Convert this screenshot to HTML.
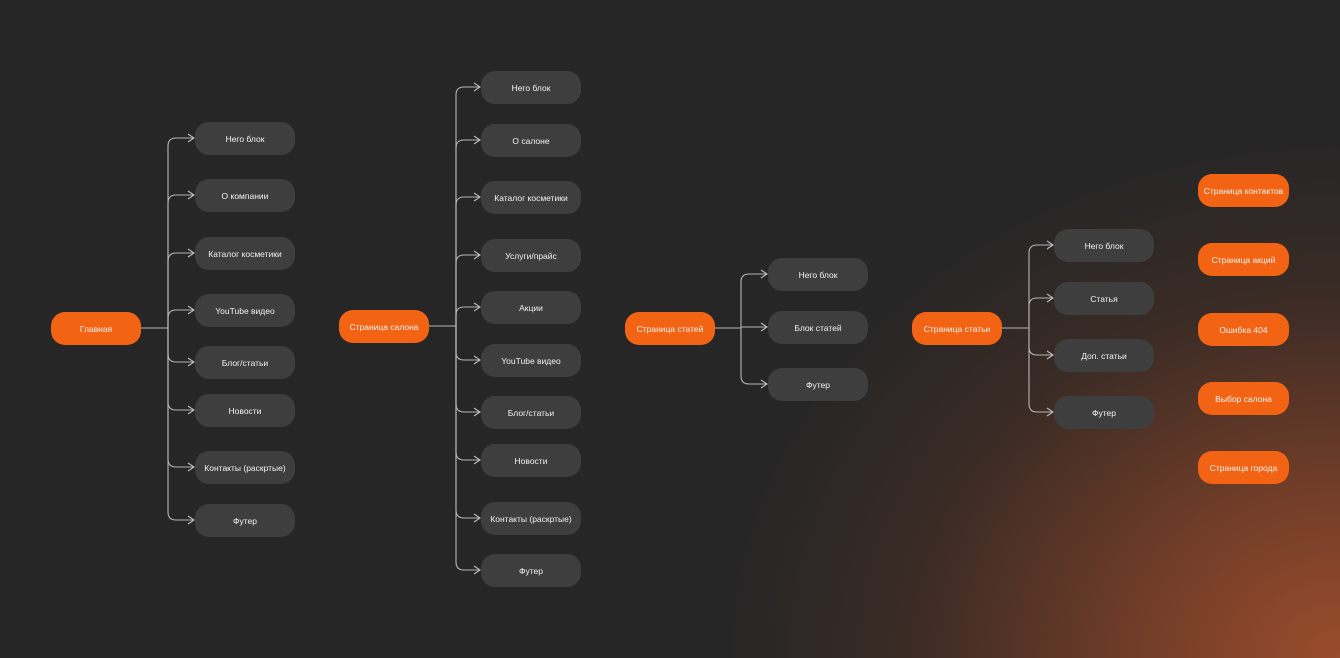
<!DOCTYPE html>
<html><head><meta charset="utf-8"><style>
html,body{margin:0;padding:0}
body{width:1340px;height:658px;position:relative;overflow:hidden;
background:radial-gradient(ellipse 620px 520px at 1340px 658px,#9a4c2c 0%,#6e3c28 35%,#3a2b25 70%,rgba(38,38,38,0) 100%),#262626;
font-family:"Liberation Sans","Noto Sans CJK SC",sans-serif;}
.n{position:absolute;height:33px;border-radius:14px;color:#f2f2f2;font-size:8.5px;display:flex;align-items:center;justify-content:center;white-space:nowrap}
.o{background:#f26414;width:90px}
.g{background:#3e3e3e;width:100px}
svg{position:absolute;left:0;top:0}
</style></head><body>
<svg width="1340" height="658">
<defs><marker id="a" markerWidth="8" markerHeight="10" refX="7" refY="5" orient="auto" markerUnits="userSpaceOnUse"><path d="M1,1 L7,5 L1,9" fill="none" stroke="#bdbdbd" stroke-width="1.1"/></marker></defs>
<g fill="none" stroke="#b5b5b5" stroke-width="1.1">
<path d="M141,328 L168,328"/>
<path marker-end="url(#a)" d="M168,328 L168,146 Q168,138 176,138 L194,138"/>
<path marker-end="url(#a)" d="M168,328 L168,203 Q168,195 176,195 L194,195"/>
<path marker-end="url(#a)" d="M168,328 L168,261 Q168,253 176,253 L194,253"/>
<path marker-end="url(#a)" d="M168,328 L168,318 Q168,310 176,310 L194,310"/>
<path marker-end="url(#a)" d="M168,328 L168,354 Q168,362 176,362 L194,362"/>
<path marker-end="url(#a)" d="M168,328 L168,402 Q168,410 176,410 L194,410"/>
<path marker-end="url(#a)" d="M168,328 L168,459 Q168,467 176,467 L194,467"/>
<path marker-end="url(#a)" d="M168,328 L168,512 Q168,520 176,520 L194,520"/>

<path d="M429,326 L456,326"/>
<path marker-end="url(#a)" d="M456,326 L456,95 Q456,87 464,87 L480,87"/>
<path marker-end="url(#a)" d="M456,326 L456,148 Q456,140 464,140 L480,140"/>
<path marker-end="url(#a)" d="M456,326 L456,205 Q456,197 464,197 L480,197"/>
<path marker-end="url(#a)" d="M456,326 L456,263 Q456,255 464,255 L480,255"/>
<path marker-end="url(#a)" d="M456,326 L456,315 Q456,307 464,307 L480,307"/>
<path marker-end="url(#a)" d="M456,326 L456,352 Q456,360 464,360 L480,360"/>
<path marker-end="url(#a)" d="M456,326 L456,404 Q456,412 464,412 L480,412"/>
<path marker-end="url(#a)" d="M456,326 L456,452 Q456,460 464,460 L480,460"/>
<path marker-end="url(#a)" d="M456,326 L456,510 Q456,518 464,518 L480,518"/>
<path marker-end="url(#a)" d="M456,326 L456,562 Q456,570 464,570 L480,570"/>

<path d="M715,328 L741,328"/>
<path marker-end="url(#a)" d="M741,328 L741,282 Q741,274 749,274 L767,274"/>
<path marker-end="url(#a)" d="M741,327 L767,327"/>
<path marker-end="url(#a)" d="M741,328 L741,376 Q741,384 749,384 L767,384"/>

<path d="M1002,328 L1029,328"/>
<path marker-end="url(#a)" d="M1029,328 L1029,253 Q1029,245 1037,245 L1053,245"/>
<path marker-end="url(#a)" d="M1029,328 L1029,306 Q1029,298 1037,298 L1053,298"/>
<path marker-end="url(#a)" d="M1029,328 L1029,347 Q1029,355 1037,355 L1053,355"/>
<path marker-end="url(#a)" d="M1029,328 L1029,404 Q1029,412 1037,412 L1053,412"/>
</g></svg>

<div class="n o" style="left:51px;top:312px">Главная</div>
<div class="n g" style="left:195px;top:122px">Него блок</div>
<div class="n g" style="left:195px;top:179px">О компании</div>
<div class="n g" style="left:195px;top:237px">Каталог косметики</div>
<div class="n g" style="left:195px;top:294px">YouTube видео</div>
<div class="n g" style="left:195px;top:346px">Блог/статьи</div>
<div class="n g" style="left:195px;top:394px">Новости</div>
<div class="n g" style="left:195px;top:451px">Контакты (раскртые)</div>
<div class="n g" style="left:195px;top:504px">Футер</div>

<div class="n o" style="left:339px;top:310px">Страница салона</div>
<div class="n g" style="left:481px;top:71px">Него блок</div>
<div class="n g" style="left:481px;top:124px">О салоне</div>
<div class="n g" style="left:481px;top:181px">Каталог косметики</div>
<div class="n g" style="left:481px;top:239px">Услуги/прайс</div>
<div class="n g" style="left:481px;top:291px">Акции</div>
<div class="n g" style="left:481px;top:344px">YouTube видео</div>
<div class="n g" style="left:481px;top:396px">Блог/статьи</div>
<div class="n g" style="left:481px;top:444px">Новости</div>
<div class="n g" style="left:481px;top:502px">Контакты (раскртые)</div>
<div class="n g" style="left:481px;top:554px">Футер</div>

<div class="n o" style="left:625px;top:312px">Страница статей</div>
<div class="n g" style="left:768px;top:258px">Него блок</div>
<div class="n g" style="left:768px;top:311px">Блок статей</div>
<div class="n g" style="left:768px;top:368px">Футер</div>

<div class="n o" style="left:912px;top:312px">Страница статьи</div>
<div class="n g" style="left:1054px;top:229px">Него блок</div>
<div class="n g" style="left:1054px;top:282px">Статья</div>
<div class="n g" style="left:1054px;top:339px">Доп. статьи</div>
<div class="n g" style="left:1054px;top:396px">Футер</div>

<div class="n o" style="left:1198px;top:174px;width:91px">Страница контактов</div>
<div class="n o" style="left:1198px;top:243px;width:91px">Страница акций</div>
<div class="n o" style="left:1198px;top:313px;width:91px">Ошибка 404</div>
<div class="n o" style="left:1198px;top:382px;width:91px">Выбор салона</div>
<div class="n o" style="left:1198px;top:451px;width:91px">Страница города</div>
</body></html>
